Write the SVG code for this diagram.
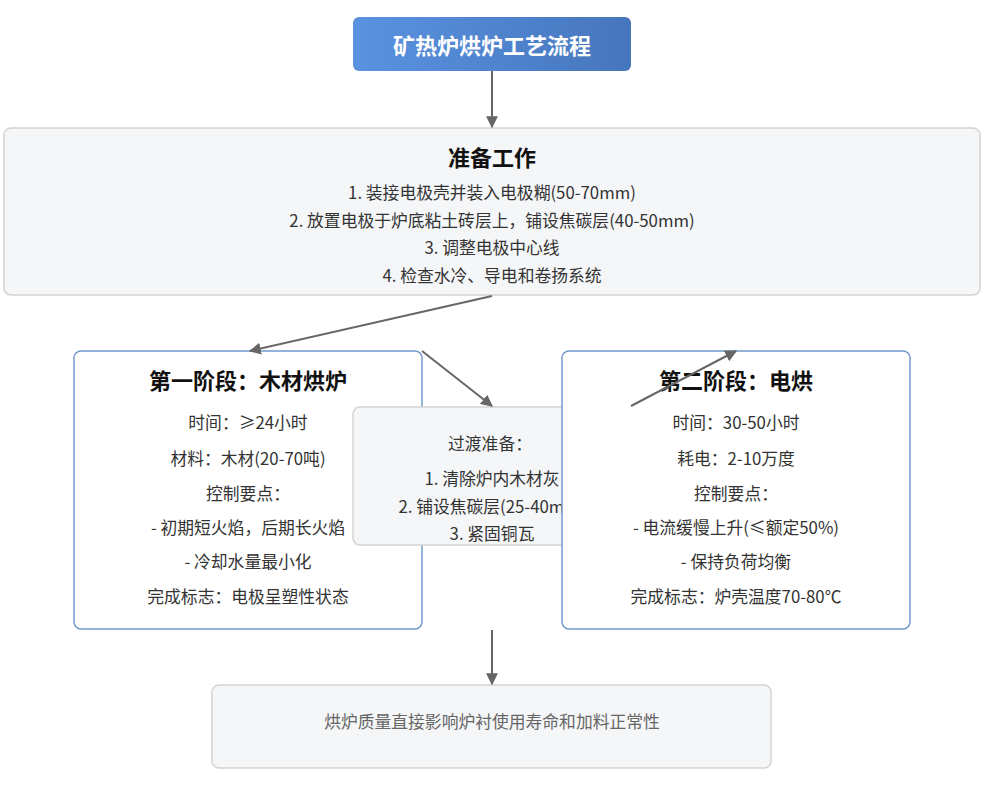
<svg xmlns="http://www.w3.org/2000/svg" width="1000" height="791" viewBox="0 0 1000 791">
<defs>
<linearGradient id="tg" x1="0" y1="0" x2="1" y2="0">
<stop offset="0" stop-color="#5a92e0"/>
<stop offset="1" stop-color="#4676bd"/>
</linearGradient>
<marker id="ah" viewBox="0 0 10 10" refX="9" refY="5" markerWidth="6" markerHeight="6" orient="auto" markerUnits="strokeWidth">
<path d="M0,0 L10,5 L0,10 z" fill="#666"/>
</marker>
<style>
text{font-family:"Noto Sans CJK SC","Noto Sans",sans-serif;text-anchor:middle;dominant-baseline:central;fill:#333;font-size:16.8px}
.h{font-size:22px;font-weight:bold;fill:#111}
.gray{fill:#f5f6f8;stroke:#d3d3d3;stroke-width:1.5}
.stage{fill:#fff;stroke:#7399cc;stroke-width:1.5}
.conn{stroke:#666;stroke-width:2;fill:none;marker-end:url(#ah)}
</style>
</defs>
<rect width="1000" height="791" fill="#fff"/>
<g id="title">
<rect x="353" y="17" width="278" height="54" rx="6" fill="url(#tg)"/>
<text x="492" y="44" class="h" style="fill:#fff">矿热炉烘炉工艺流程</text>
</g>
<g id="prep">
<rect x="4" y="128" width="976" height="167" rx="7" class="gray"/>
<text x="492" y="156" class="h">准备工作</text>
<text x="492" y="192">1. 装接电极壳并装入电极糊(50-70mm)</text>
<text x="492" y="220">2. 放置电极于炉底粘土砖层上，铺设焦碳层(40-50mm)</text>
<text x="492" y="247">3. 调整电极中心线</text>
<text x="492" y="275">4. 检查水冷、导电和卷扬系统</text>
</g>
<g id="stage1">
<rect x="74" y="351" width="348" height="278" rx="7" class="stage"/>
<text x="248" y="379" class="h">第一阶段：木材烘炉</text>
<text x="248" y="422">时间：≥24小时</text>
<text x="248" y="458">材料：木材(20-70吨)</text>
<text x="248" y="493">控制要点：</text>
<text x="248" y="527">- 初期短火焰，后期长火焰</text>
<text x="248" y="561">- 冷却水量最小化</text>
<text x="248" y="596">完成标志：电极呈塑性状态</text>
</g>
<g id="transition">
<rect x="353" y="407" width="278" height="138" rx="7" class="gray"/>
<text x="490" y="443">过渡准备：</text>
<text x="492" y="478">1. 清除炉内木材灰</text>
<text x="492" y="506">2. 铺设焦碳层(25-40mm)</text>
<text x="492" y="533">3. 紧固铜瓦</text>
</g>
<g id="stage2">
<rect x="562" y="351" width="348" height="278" rx="7" class="stage"/>
<text x="736" y="379" class="h">第二阶段：电烘</text>
<text x="736" y="422">时间：30-50小时</text>
<text x="736" y="458">耗电：2-10万度</text>
<text x="736" y="493">控制要点：</text>
<text x="736" y="527">- 电流缓慢上升(≤额定50%)</text>
<text x="736" y="561">- 保持负荷均衡</text>
<text x="736" y="596">完成标志：炉壳温度70-80℃</text>
</g>
<g id="note">
<rect x="212" y="685" width="559" height="83" rx="7" class="gray"/>
<text x="492" y="721" style="fill:#666">烘炉质量直接影响炉衬使用寿命和加料正常性</text>
</g>
<g id="connectors">
<line x1="492" y1="71" x2="492" y2="127" class="conn"/>
<line x1="492" y1="296" x2="250" y2="351" class="conn"/>
<line x1="422" y1="351" x2="492" y2="406" class="conn"/>
<line x1="631" y1="406" x2="736" y2="351" class="conn"/>
<line x1="492" y1="630" x2="492" y2="684" class="conn"/>
</g>
</svg>
